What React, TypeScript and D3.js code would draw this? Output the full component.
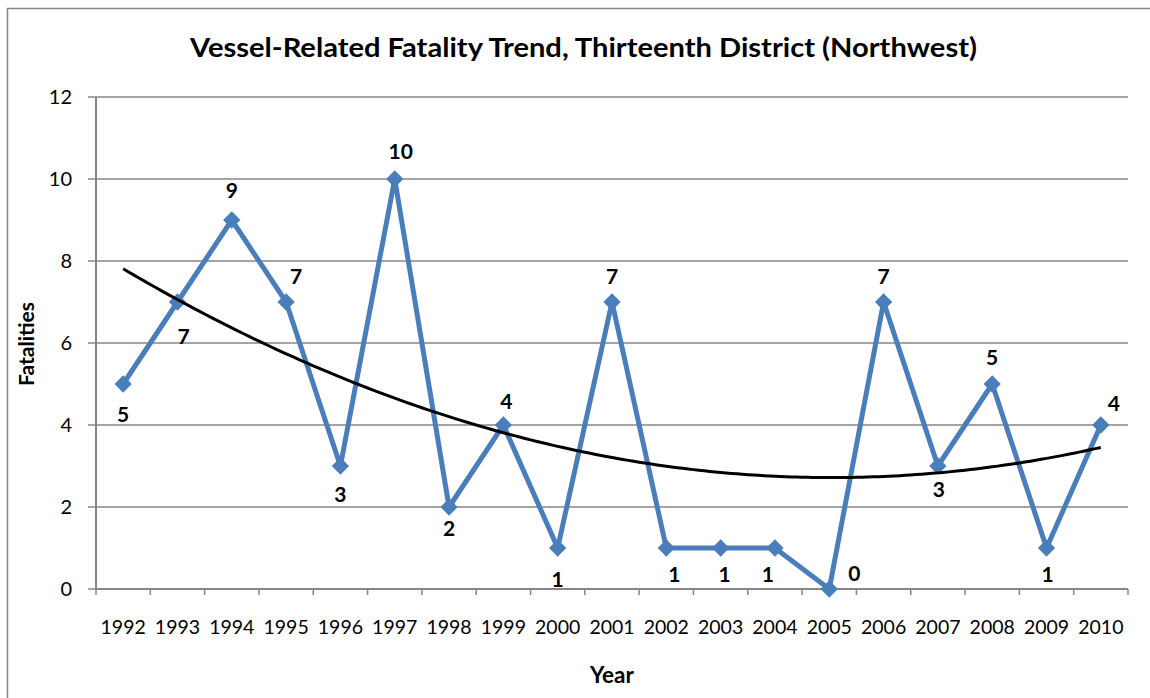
import React from "react";
import * as d3 from "d3";

const years: string[] = ["1992","1993","1994","1995","1996","1997","1998","1999","2000","2001","2002","2003","2004","2005","2006","2007","2008","2009","2010"];
const fatalities: number[] = [5,7,9,7,3,10,2,4,1,7,1,1,1,0,7,3,5,1,4];
const yTicks: number[] = [0,2,4,6,8,10,12];
// label placement per point: [dx, dy] offset from the marker
const labelOffsets: [number, number][] = [
  [0, 30],[6, 34],[0, -30],[10, -26],[0, 28],[6, -28],[0, 21],[3, -24],[0, 31],[0, -26],
  [8, 26],[4, 26],[-7, 26],[25, -16],[0, -26],[1, 23],[0, -27],[1, 26],[13, -22],
];

const TITLE = "Vessel-Related Fatality Trend, Thirteenth District (Northwest)";
const FONT = "Lato, 'Noto Sans', sans-serif";
const BLUE = "#4A7EBB";
const GRAY = "#868686";

function polyFit2(xs: number[], ys: number[]): (x: number) => number {
  // least squares quadratic fit (like Excel's polynomial trendline, order 2)
  const n = xs.length;
  let s = [0, 0, 0, 0, 0];
  let t = [0, 0, 0];
  for (let i = 0; i < n; i++) {
    for (let k = 0; k < 5; k++) s[k] += Math.pow(xs[i], k);
    for (let k = 0; k < 3; k++) t[k] += ys[i] * Math.pow(xs[i], k);
  }
  const A = [
    [s[0], s[1], s[2], t[0]],
    [s[1], s[2], s[3], t[1]],
    [s[2], s[3], s[4], t[2]],
  ];
  for (let i = 0; i < 3; i++) {
    for (let j = i + 1; j < 3; j++) {
      const f = A[j][i] / A[i][i];
      for (let k = i; k < 4; k++) A[j][k] -= f * A[i][k];
    }
  }
  const c = [0, 0, 0];
  for (let i = 2; i >= 0; i--) {
    let v = A[i][3];
    for (let k = i + 1; k < 3; k++) v -= A[i][k] * c[k];
    c[i] = v / A[i][i];
  }
  return (x: number) => c[0] + c[1] * x + c[2] * x * x;
}

export default function App() {
  const W = 1150, H = 698;
  const left = 96, right = 1128, top = 97, bottom = 589;

  const x = d3.scaleBand<string>().domain(years).range([left, right]).padding(0);
  const y = d3.scaleLinear().domain([0, 12]).range([bottom, top]);
  const cx = (yr: string) => (x(yr) as number) + x.bandwidth() / 2;

  const line = d3.line<number>()
    .x((_, i) => cx(years[i]))
    .y((d) => y(d));

  const idx = fatalities.map((_, i) => i + 1);
  const trend = polyFit2(idx, fatalities);
  const trendPts = d3.range(1, 19.001, 0.1).map((t) => t);
  const trendLine = d3.line<number>()
    .x((t) => left + (t - 0.5) * x.bandwidth())
    .y((t) => y(trend(t)))
    .curve(d3.curveLinear);

  const boundaries = d3.range(0, years.length + 1).map((i) => left + i * x.bandwidth());
  const diamond = d3.symbol().type(d3.symbolDiamond2).size(190)();

  return (
    <svg width={W} height={H} style={{ display: "block", position: "absolute", left: 0, top: 0 }} fontFamily={FONT}>
      <rect x={0} y={0} width={W} height={H} fill="#fff" />
      <rect x={7.5} y={8.5} width={1170} height={720} fill="none" stroke={GRAY} strokeWidth={1.5} />
      <text x={583.5} y={57} textAnchor="middle" fontWeight="bold" fontSize={26} fill="#000"
        textLength={787} lengthAdjust="spacingAndGlyphs">{TITLE}</text>

      {/* gridlines */}
      {yTicks.filter((v) => v > 0).map((v) => (
        <line key={v} x1={left} x2={right} y1={y(v)} y2={y(v)} stroke={GRAY} strokeWidth={1.5} />
      ))}
      {/* y axis */}
      <line x1={left} x2={left} y1={top} y2={bottom} stroke={GRAY} strokeWidth={2} />
      {yTicks.map((v) => (
        <g key={v}>
          <line x1={left - 8} x2={left} y1={y(v)} y2={y(v)} stroke={GRAY} strokeWidth={1.5} />
          <text x={72} y={y(v)} dy="0.36em" textAnchor="end" fontSize={20} fill="#000">{v}</text>
        </g>
      ))}
      {/* x axis */}
      <line x1={left} x2={right} y1={bottom} y2={bottom} stroke={GRAY} strokeWidth={2} />
      {boundaries.map((bx, i) => (
        <line key={i} x1={bx} x2={bx} y1={bottom} y2={bottom + 6} stroke={GRAY} strokeWidth={1.5} />
      ))}
      {years.map((yr) => (
        <text key={yr} x={cx(yr)} y={634} textAnchor="middle" fontSize={19.5} fill="#000">{yr}</text>
      ))}

      <text transform={`translate(34,344) rotate(-90)`} textAnchor="middle" fontWeight="bold" fontSize={21} fill="#000">Fatalities</text>
      <text x={612} y={683} textAnchor="middle" fontWeight="bold" fontSize={22.5} fill="#000">Year</text>

      {/* series */}
      <path d={line(fatalities) || ""} fill="none" stroke={BLUE} strokeWidth={5} strokeLinejoin="round" />
      {fatalities.map((v, i) => (
        <path key={i} d={diamond || ""} transform={`translate(${cx(years[i])},${y(v)})`} fill={BLUE} />
      ))}
      {/* trendline */}
      <path d={trendLine(trendPts) || ""} fill="none" stroke="#000" strokeWidth={3} />

      {/* data labels */}
      {fatalities.map((v, i) => (
        <text key={i} x={cx(years[i]) + labelOffsets[i][0]} y={y(v) + labelOffsets[i][1]} dy="0.36em"
          textAnchor="middle" fontWeight="bold" fontSize={21} fill="#000">{v}</text>
      ))}
    </svg>
  );
}
